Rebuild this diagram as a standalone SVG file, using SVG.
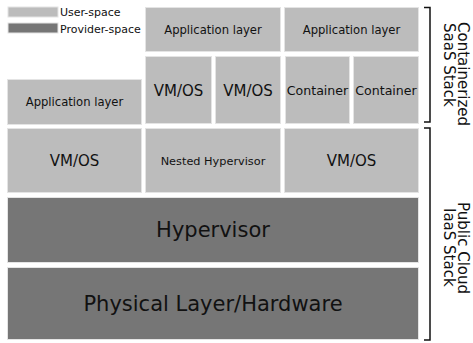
<svg xmlns="http://www.w3.org/2000/svg" width="473" height="343" viewBox="0 0 473 343">
<style>
text{font-family:"DejaVu Sans","Liberation Sans",sans-serif;fill:#111;}
.u{fill:#bcbcbc;stroke:#e4e4e4;stroke-width:1;}
.p{fill:#767676;stroke:#e4e4e4;stroke-width:1;}
.c{text-anchor:middle;}
.br{fill:none;stroke:#111;stroke-width:1.5;}
.side{font-size:15px;}
</style>
<rect width="473" height="343" fill="#ffffff"/>
<g id="legend">
<rect class="u" x="8" y="7" width="50" height="10"/>
<text x="60" y="16" font-size="11">User-space</text>
<rect class="p" x="8" y="23" width="50" height="10"/>
<text x="60" y="33" font-size="11">Provider-space</text>
</g>
<g id="app1"><rect class="u" x="145.5" y="7.5" width="135" height="44"/><text class="c" x="213" y="34" font-size="11.6">Application layer</text></g>
<g id="app2"><rect class="u" x="284.5" y="7.5" width="134" height="44"/><text class="c" x="351.5" y="34" font-size="11.6">Application layer</text></g>
<g id="vm1"><rect class="u" x="145.5" y="56.5" width="66" height="67"/><text class="c" x="178.5" y="95.5" font-size="15">VM/OS</text></g>
<g id="vm2"><rect class="u" x="215.5" y="56.5" width="65" height="67"/><text class="c" x="248" y="95.5" font-size="15">VM/OS</text></g>
<g id="container1"><rect class="u" x="285.5" y="56.5" width="64" height="67"/><text class="c" x="317.5" y="95" font-size="12.6">Container</text></g>
<g id="container2"><rect class="u" x="353.5" y="56.5" width="65" height="67"/><text class="c" x="386" y="95" font-size="12.6">Container</text></g>
<g id="appleft"><rect class="u" x="7.5" y="79.5" width="134" height="45"/><text class="c" x="74.5" y="106" font-size="11.6">Application layer</text></g>
<g id="vmosleft"><rect class="u" x="7.5" y="128.5" width="134" height="64"/><text class="c" x="74.5" y="166" font-size="15">VM/OS</text></g>
<g id="nested"><rect class="u" x="145.5" y="128.5" width="135" height="64"/><text class="c" x="213" y="164.5" font-size="11.3">Nested Hypervisor</text></g>
<g id="vmosright"><rect class="u" x="284.5" y="128.5" width="134" height="64"/><text class="c" x="351.5" y="166" font-size="15">VM/OS</text></g>
<g id="hypervisor"><rect class="p" x="7.5" y="197.5" width="411" height="65"/><text class="c" x="213" y="237" font-size="21">Hypervisor</text></g>
<g id="physical"><rect class="p" x="7.5" y="267.5" width="411" height="72"/><text class="c" x="213" y="311" font-size="21">Physical Layer/Hardware</text></g>
<g id="connectors">
<path class="br" d="M424,7.5 H430 V122 H424"/>
<path class="br" d="M424,128 H430 V340 H424"/>
</g>
<g id="labels">
<text class="side" transform="translate(458,22) rotate(90)">Containerized</text>
<text class="side" transform="translate(443.5,23) rotate(90)">SaaS Stack</text>
<text class="side" transform="translate(458,202) rotate(90)">Public Cloud</text>
<text class="side" transform="translate(443.5,208) rotate(90)">IaaS Stack</text>
</g>
</svg>
